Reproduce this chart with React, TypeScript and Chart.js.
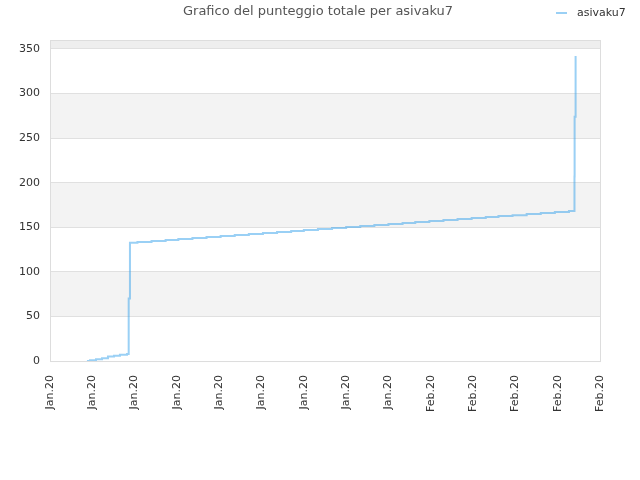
import React, { useEffect, useRef } from 'react';
import { Chart, registerables } from 'chart.js';

Chart.register(...registerables);

const TITLE = 'Grafico del punteggio totale per asivaku7';
const PLAYER = 'asivaku7';

// x positions in days from the first tick
const days = [
  2.62, 2.84, 3.26, 3.69, 4.11, 4.54, 4.96, 5.46, 5.58, 5.67,
  6.2, 7.2, 8.2, 9.1, 10.1, 11.1, 12.1, 13.1, 14.1, 15.1, 16.1, 17.1,
  18.0, 19.0, 20.0, 21.0, 22.0, 23.0, 24.0, 25.0, 25.9, 26.9, 27.9, 28.9,
  29.9, 30.9, 31.8, 32.8, 33.8, 34.8, 35.8, 36.8,
  37.19, 37.2, 37.27,
];

const scores = [
  0, 1, 2, 3, 5, 6, 7, 8, 70, 132.5,
  133.5, 134.6, 135.7, 136.8, 138, 139.1, 140.2, 141.3, 142.4, 143.5, 144.7, 145.8,
  146.9, 148, 149.1, 150.2, 151.4, 152.5, 153.6, 154.7, 155.8, 156.9, 158.1, 159.2,
  160.3, 161.4, 162.5, 163.6, 164.8, 165.9, 167, 168.3,
  207, 274, 342,
];

const yTicks = [0, 50, 100, 150, 200, 250, 300, 350];

const xTickLabels = [
  'Jan.20', 'Jan.20', 'Jan.20', 'Jan.20', 'Jan.20', 'Jan.20', 'Jan.20',
  'Jan.20', 'Jan.20', 'Feb.20', 'Feb.20', 'Feb.20', 'Feb.20', 'Feb.20',
];

const FONT = '"DejaVu Sans", sans-serif';
const LINE = 'rgba(54,162,235,0.5)';

const backdrop = {
  id: 'backdrop',
  beforeDraw(chart: any) {
    const { ctx, chartArea: a, scales } = chart;
    const y = scales.y;
    ctx.save();
    const bands: [number, number, string][] = [
      [350, 360, '#eeeeee'],
      [250, 300, '#f3f3f3'],
      [150, 200, '#f3f3f3'],
      [50, 100, '#f3f3f3'],
    ];
    bands.forEach(([lo, hi, c]) => {
      const top = y.getPixelForValue(hi);
      const bot = y.getPixelForValue(lo);
      ctx.fillStyle = c;
      ctx.fillRect(a.left, top, a.right - a.left, bot - top);
    });
    ctx.restore();
  },
  afterDraw(chart: any) {
    const { ctx, chartArea: a } = chart;
    ctx.save();
    ctx.strokeStyle = '#dddddd';
    ctx.lineWidth = 1;
    ctx.strokeRect(a.left + 0.5, a.top + 0.5, a.right - a.left, a.bottom - a.top);
    // title
    ctx.fillStyle = '#555555';
    ctx.font = '13px ' + FONT;
    ctx.textAlign = 'center';
    ctx.textBaseline = 'middle';
    ctx.fillText(TITLE, 318, 12);
    // legend
    const ds = chart.data.datasets[0];
    ctx.strokeStyle = ds.borderColor;
    ctx.lineWidth = 2;
    ctx.beginPath();
    ctx.moveTo(556, 13);
    ctx.lineTo(567, 13);
    ctx.stroke();
    ctx.fillStyle = '#333333';
    ctx.font = '11px ' + FONT;
    ctx.textAlign = 'left';
    ctx.fillText(ds.label, 577, 13);
    ctx.restore();
  },
};

const App: React.FC = () => {
  const canvasRef = useRef<HTMLCanvasElement>(null);

  useEffect(() => {
    document.body.style.margin = '0';
    if (!canvasRef.current) return;
    const chart = new Chart(canvasRef.current, {
      type: 'line',
      data: {
        datasets: [
          {
            label: PLAYER,
            data: days.map((d, i) => ({ x: d, y: scores[i] })),
            borderColor: LINE,
            backgroundColor: LINE,
            borderWidth: 2,
            pointRadius: 0,
            stepped: 'before',
            fill: false,
          },
        ],
      },
      options: {
        responsive: false,
        animation: false,
        layout: { padding: { top: 40, right: 40, bottom: 62, left: 9 } },
        plugins: {
          tooltip: { enabled: false },
          title: { display: false },
          legend: { display: false },
        },
        scales: {
          x: {
            type: 'linear',
            min: 0,
            max: 39,
            ticks: {
              stepSize: 3,
              minRotation: 90,
              maxRotation: 90,
              padding: 6,
              color: '#333333',
              font: { family: FONT, size: 11 },
              callback: (v: any) => xTickLabels[Math.round(Number(v) / 3)] ?? '',
            },
            grid: { display: false },
            border: { display: false },
          },
          y: {
            min: 0,
            max: 360,
            afterBuildTicks: (axis: any) => {
              axis.ticks = yTicks.map((value) => ({ value }));
            },
            ticks: {
              padding: 10,
              autoSkip: false,
              color: '#333333',
              font: { family: FONT, size: 11 },
            },
            grid: { color: '#e0e0e0', drawTicks: false },
            border: { display: false },
          },
        },
      },
      plugins: [backdrop],
    });
    return () => chart.destroy();
  }, []);

  return <canvas ref={canvasRef} width={640} height={480} />;
};

export default App;
